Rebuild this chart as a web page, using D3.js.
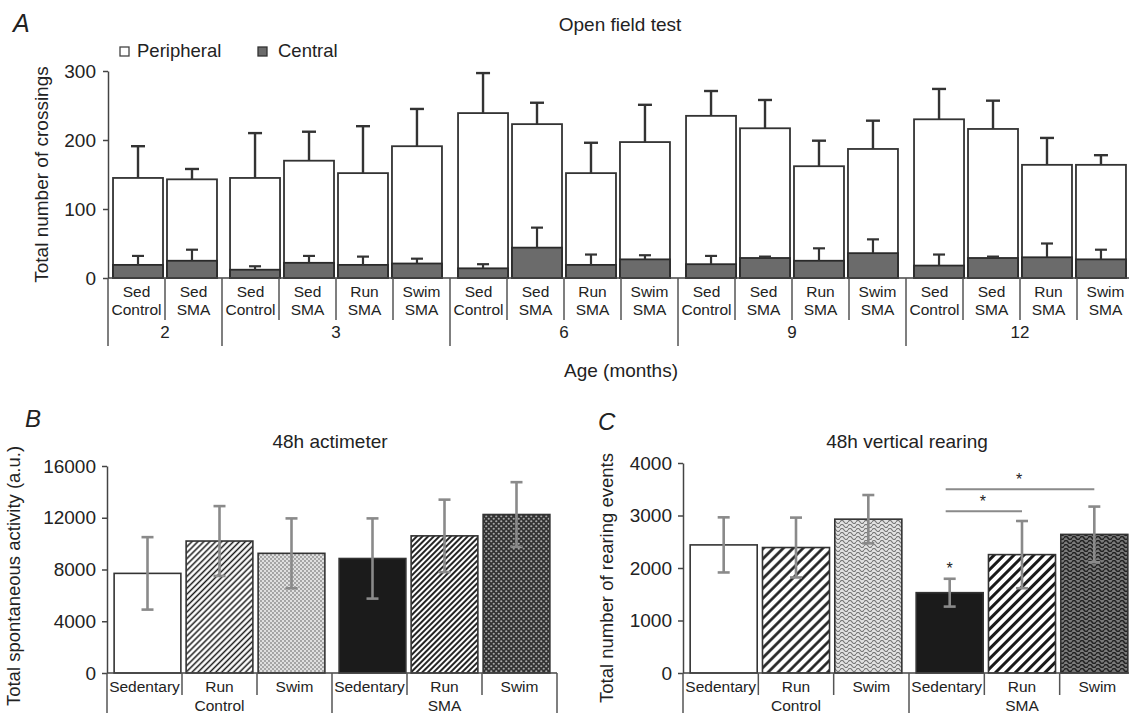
<!DOCTYPE html>
<html><head><meta charset="utf-8">
<script src="https://cdn.jsdelivr.net/npm/d3@7"></script>
<style>
body{margin:0;background:#fff}
text{font-family:"Liberation Sans",Arial,Helvetica,sans-serif;fill:#222}
</style>
</head><body>
<svg id="chart" width="1129" height="713"></svg>
<script>
// ---------- Panel A: Open field test ----------
const ofAges = ["2","3","6","9","12"];
const ofAgeOf = ["2","2","3","3","3","3","6","6","6","6","9","9","9","9","12","12","12","12"];
const ofLine1 = ["Sed","Sed","Sed","Sed","Run","Swim","Sed","Sed","Run","Swim","Sed","Sed","Run","Swim","Sed","Sed","Run","Swim"];
const ofLine2 = ["Control","SMA","Control","SMA","SMA","SMA","Control","SMA","SMA","SMA","Control","SMA","SMA","SMA","Control","SMA","SMA","SMA"];
const ofTotal      = [145,143,145,170,152,191,239,223,152,197,235,217,162,187,230,216,164,164];
const ofTotalErr   = [ 46, 15, 65, 42, 68, 54, 58, 31, 44, 54, 36, 41, 37, 41, 44, 41, 39, 14];
const ofCentral    = [ 19, 25, 12, 22, 19, 21, 14, 44, 19, 27, 20, 29, 25, 36, 18, 29, 30, 27];
const ofCentralErr = [ 13, 16,  5, 10, 12,  7,  6, 29, 15,  6, 12,  2, 18, 20, 16,  2, 20, 14];
const ofTicks = [0,100,200,300];
const ofLegend = ["Peripheral","Central"];

// ---------- Panel B: 48h actimeter ----------
const actGroup = ["Control","Control","Control","SMA","SMA","SMA"];
const actLabel = ["Sedentary","Run","Swim","Sedentary","Run","Swim"];
const actMean  = [7700,10200,9250,8850,10600,12250];
const actErr   = [2800,2700,2700,3100,2800,2500];
const actTicks = [0,4000,8000,12000,16000];

// ---------- Panel C: 48h vertical rearing ----------
const rearGroup = ["Control","Control","Control","SMA","SMA","SMA"];
const rearLabel = ["Sedentary","Run","Swim","Sedentary","Run","Swim"];
const rearMean  = [2440,2390,2930,1530,2255,2640];
const rearErr   = [525,570,460,265,640,530];
const rearTicks = [0,1000,2000,3000,4000];
const rearSigBars = [[3,4,3080],[3,5,3500]];   // [from, to, level]
const rearSigStar = [[3,2030]];                 // [bar, level]

const svg = d3.select("#chart");
const defs = svg.append("defs");
const INK = "#333";

// ---- patterns ----
function hatch(id, size, sw, color, bg){
  const p = defs.append("pattern").attr("id",id).attr("patternUnits","userSpaceOnUse")
    .attr("width",size).attr("height",size).attr("patternTransform","rotate(45)");
  p.append("rect").attr("width",size).attr("height",size).attr("fill",bg);
  p.append("line").attr("x1",size/2).attr("x2",size/2).attr("y1",-1).attr("y2",size+1)
    .attr("stroke",color).attr("stroke-width",sw);
}
function dots(id, size, r, color, bg){
  const p = defs.append("pattern").attr("id",id).attr("patternUnits","userSpaceOnUse")
    .attr("width",size).attr("height",size);
  p.append("rect").attr("width",size).attr("height",size).attr("fill",bg);
  p.append("circle").attr("cx",size/4).attr("cy",size/4).attr("r",r).attr("fill",color);
  p.append("circle").attr("cx",size*3/4).attr("cy",size*3/4).attr("r",r).attr("fill",color);
}
function waves(id, w, h, sw, color, bg){
  const p = defs.append("pattern").attr("id",id).attr("patternUnits","userSpaceOnUse")
    .attr("width",w).attr("height",h);
  p.append("rect").attr("width",w).attr("height",h).attr("fill",bg);
  p.append("path").attr("d",`M0,${h/2} C${w/6},0 ${w/3},0 ${w/2},${h/2} S${w*5/6},${h} ${w},${h/2}`)
    .attr("fill","none").attr("stroke",color).attr("stroke-width",sw);
}
hatch("bRunCtl",4.2,1.5,"#1a1a1a","#fff");
dots("bSwimCtl",4,0.9,"#8a8a8a","#e0e0e0");
hatch("bRunSMA",4,1.9,"#1a1a1a","#fff");
dots("bSwimSMA",5,1.1,"#a8a8a8","#333");
hatch("cRunCtl",7,2.6,"#1a1a1a","#fff");
waves("cSwimCtl",8,4,1.2,"#777","#e2e2e2");
hatch("cRunSMA",7,3,"#1a1a1a","#fff");
waves("cSwimSMA",8,4,1.5,"#222","#7a7a7a");
const bFills = ["#fff","url(#bRunCtl)","url(#bSwimCtl)","#1b1b1b","url(#bRunSMA)","url(#bSwimSMA)"];
const cFills = ["#fff","url(#cRunCtl)","url(#cSwimCtl)","#1b1b1b","url(#cRunSMA)","url(#cSwimSMA)"];

function txt(g, x, y, s, size, anchor, extra){
  const t = g.append("text").attr("x",x).attr("y",y).attr("font-size",size)
    .attr("text-anchor",anchor||"start").text(s);
  if(extra) extra(t);
  return t;
}
function styleAxis(g){
  g.select(".domain").attr("stroke","#444").attr("stroke-width",1.5);
  g.selectAll(".tick line").attr("stroke","#444").attr("stroke-width",1.5);
  g.selectAll(".tick text").attr("font-size",19).attr("fill","#222")
    .attr("font-family","Liberation Sans, Arial, sans-serif");
}
function groupsOf(arr){
  const out = [];
  arr.forEach((v,i)=>{
    if(!out.length || out[out.length-1].key!==v) out.push({key:v, idx:[i]});
    else out[out.length-1].idx.push(i);
  });
  return out;
}
function centerFn(x, groups, stepFrac){
  const map = {};
  groups.forEach(g=>{
    const n = g.idx.length;
    const gx0 = x(g.idx[0]), gx1 = x(g.idx[n-1]) + x.bandwidth();
    const step = x.bandwidth()*stepFrac;
    g.idx.forEach((i,k)=>{ map[i] = (gx0+gx1)/2 + (k-(n-1)/2)*step; });
  });
  return i => map[i];
}

// ================= Panel A =================
(function(){
  const g = svg.append("g");
  const x = d3.scaleBand().domain(d3.range(ofTotal.length)).range([108,1134]);
  const y = d3.scaleLinear().domain([0,300]).range([278,71]);
  const groups = groupsOf(ofAgeOf);
  const cx = centerFn(x, groups, 0.947);
  const bw = x.bandwidth()*0.877;
  const cap = 7;

  txt(g,13,32,"A",25,"start",t=>t.attr("font-style","italic"));
  txt(g,620,31,"Open field test",19,"middle");
  g.append("rect").attr("x",120).attr("y",47).attr("width",9).attr("height",9)
    .attr("fill","#fff").attr("stroke","#444").attr("stroke-width",1.3);
  txt(g,137,57,ofLegend[0],18.5);
  g.append("rect").attr("x",258).attr("y",47).attr("width",9).attr("height",9)
    .attr("fill","#6b6b6b").attr("stroke","#333").attr("stroke-width",1.3);
  txt(g,278,57,ofLegend[1],18.5);

  g.selectAll(".tot").data(ofTotal).join("rect")
    .attr("x",(d,i)=>cx(i)-bw/2).attr("y",d=>y(d)).attr("width",bw).attr("height",d=>y(0)-y(d))
    .attr("fill","#fff").attr("stroke",INK).attr("stroke-width",1.8);
  ofTotal.forEach((d,i)=>{
    const yt = y(d+ofTotalErr[i]);
    g.append("line").attr("x1",cx(i)).attr("x2",cx(i)).attr("y1",y(d)).attr("y2",yt).attr("stroke",INK).attr("stroke-width",2.4);
    g.append("line").attr("x1",cx(i)-cap).attr("x2",cx(i)+cap).attr("y1",yt).attr("y2",yt).attr("stroke",INK).attr("stroke-width",2.4);
  });
  g.selectAll(".cen").data(ofCentral).join("rect")
    .attr("x",(d,i)=>cx(i)-bw/2).attr("y",d=>y(d)).attr("width",bw).attr("height",d=>y(0)-y(d))
    .attr("fill","#6b6b6b").attr("stroke","#2a2a2a").attr("stroke-width",1.8);
  ofCentral.forEach((d,i)=>{
    const yt = y(d+ofCentralErr[i]);
    g.append("line").attr("x1",cx(i)).attr("x2",cx(i)).attr("y1",y(d)).attr("y2",yt).attr("stroke",INK).attr("stroke-width",2.2);
    g.append("line").attr("x1",cx(i)-6).attr("x2",cx(i)+6).attr("y1",yt).attr("y2",yt).attr("stroke",INK).attr("stroke-width",2.2);
  });

  const ya = g.append("g").attr("transform","translate(108,0)")
    .call(d3.axisLeft(y).tickValues(ofTicks).tickFormat(d3.format("d")).tickSize(5).tickSizeOuter(0).tickPadding(7));
  styleAxis(ya);
  txt(g,0,0,"Total number of crossings",19,"middle",t=>t.attr("transform","translate(48,174.5) rotate(-90)"));

  const [x0,x1] = x.range();
  g.append("line").attr("x1",x0).attr("x2",x1).attr("y1",y(0)).attr("y2",y(0)).attr("stroke","#444").attr("stroke-width",1.5);
  const groupStarts = new Set(groups.map(gg=>gg.idx[0]));
  for(let i=0;i<=ofTotal.length;i++){
    const xx = i<ofTotal.length ? x(i) : x1;
    const long = groupStarts.has(i) || i===ofTotal.length;
    g.append("line").attr("x1",xx).attr("x2",xx).attr("y1",y(0)).attr("y2",long?346:320)
      .attr("stroke","#555").attr("stroke-width",1.5);
  }
  ofLine1.forEach((s,i)=>{
    const c = x(i)+x.bandwidth()/2;
    txt(g,c,297,s,15.5,"middle");
    txt(g,c,315,ofLine2[i],15.5,"middle");
  });
  groups.forEach(gg=>{
    const c = (x(gg.idx[0]) + x(gg.idx[gg.idx.length-1]) + x.bandwidth())/2;
    txt(g,c,338,gg.key,17,"middle");
  });
  txt(g,621,377,"Age (months)",19,"middle");
})();

// ================= Panels B & C =================
function barPanel(opt){
  const g = svg.append("g");
  const x = d3.scaleBand().domain(d3.range(opt.mean.length)).range(opt.xr);
  const y = d3.scaleLinear().domain(opt.dom).range(opt.yr);
  const groups = groupsOf(opt.group);
  const cx = centerFn(x, groups, 0.96);
  const bw = x.bandwidth()*0.89;
  const cap = 6;

  txt(g,opt.letterX,opt.letterY,opt.letter,24,"start",t=>t.attr("font-style","italic"));
  txt(g,opt.titleX,448,opt.title,19,"middle");

  g.selectAll(".bar").data(opt.mean).join("rect")
    .attr("x",(d,i)=>cx(i)-bw/2).attr("y",d=>y(d)).attr("width",bw).attr("height",d=>y(0)-y(d))
    .attr("fill",(d,i)=>opt.fills[i]).attr("stroke",INK).attr("stroke-width",1.6);
  opt.mean.forEach((d,i)=>{
    const yt = y(d+opt.err[i]), yb = y(d-opt.err[i]);
    g.append("line").attr("x1",cx(i)).attr("x2",cx(i)).attr("y1",yb).attr("y2",yt).attr("stroke","#8a8a8a").attr("stroke-width",2.6);
    [yt,yb].forEach(yy=>g.append("line").attr("x1",cx(i)-cap).attr("x2",cx(i)+cap).attr("y1",yy).attr("y2",yy).attr("stroke","#8a8a8a").attr("stroke-width",2.6));
  });

  const ya = g.append("g").attr("transform",`translate(${opt.xr[0]},0)`)
    .call(d3.axisLeft(y).tickValues(opt.ticks).tickFormat(d3.format("d")).tickSize(5).tickSizeOuter(0).tickPadding(6));
  styleAxis(ya);
  txt(g,0,0,opt.ylabel,opt.ylabSize,"middle",t=>t.attr("transform",`translate(${opt.ylabX},${opt.ylabY}) rotate(-90)`));

  const [x0,x1] = x.range();
  g.append("line").attr("x1",x0).attr("x2",x1).attr("y1",y(0)).attr("y2",y(0)).attr("stroke","#444").attr("stroke-width",1.5);
  const groupStarts = new Set(groups.map(gg=>gg.idx[0]));
  for(let i=0;i<=opt.mean.length;i++){
    const xx = i<opt.mean.length ? x(i) : x1;
    const long = groupStarts.has(i) || i===opt.mean.length;
    g.append("line").attr("x1",xx).attr("x2",xx).attr("y1",y(0)).attr("y2",long?713:695)
      .attr("stroke","#555").attr("stroke-width",1.5);
  }
  opt.label.forEach((s,i)=>txt(g,x(i)+x.bandwidth()/2,692,s,15.5,"middle"));
  groups.forEach(gg=>{
    const c = (x(gg.idx[0]) + x(gg.idx[gg.idx.length-1]) + x.bandwidth())/2;
    txt(g,c,711,gg.key,15.5,"middle");
  });

  if(opt.sigBars){
    opt.sigBars.forEach(([a,b,lv])=>{
      const yy = y(lv);
      g.append("line").attr("x1",cx(a)-4).attr("x2",cx(b)).attr("y1",yy).attr("y2",yy).attr("stroke","#8a8a8a").attr("stroke-width",2);
      txt(g,(cx(a)+cx(b))/2-3,yy-4,"*",16,"middle");
    });
    opt.sigStar.forEach(([a,lv])=>txt(g,cx(a),y(lv)+8,"*",16,"middle"));
  }
}

barPanel({
  letter:"B", letterX:25, letterY:427, title:"48h actimeter", titleX:330,
  mean:actMean, err:actErr, group:actGroup, label:actLabel, ticks:actTicks,
  dom:[0,16000], xr:[107,557], yr:[673,466], fills:bFills,
  ylabel:"Total spontaneous activity (a.u.)", ylabX:20, ylabY:576, ylabSize:18.5
});
barPanel({
  letter:"C", letterX:598, letterY:430, title:"48h vertical rearing", titleX:907,
  mean:rearMean, err:rearErr, group:rearGroup, label:rearLabel, ticks:rearTicks,
  dom:[0,4000], xr:[683,1135], yr:[673,463], fills:cFills,
  ylabel:"Total number of rearing events", ylabX:613, ylabY:578, ylabSize:18.5,
  sigBars:rearSigBars, sigStar:rearSigStar
});
</script>
</body></html>
